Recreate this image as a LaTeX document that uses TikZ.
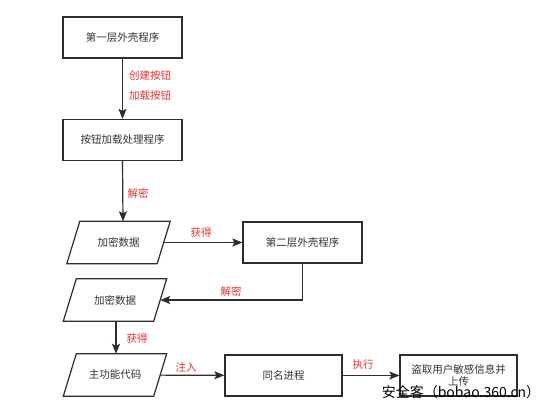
\documentclass[tikz,border=0pt]{standalone}
\usepackage{fontspec}
\setmainfont{Noto Sans CJK SC}
\usetikzlibrary{arrows.meta}
\definecolor{lbl}{RGB}{235,50,50}
\definecolor{ln}{RGB}{45,45,45}
\definecolor{txt}{RGB}{51,51,51}
\tikzset{
  boxnode/.style={draw=ln, line width=1.2pt, minimum width=119pt, minimum height=41pt, inner sep=0pt,
    font=\fontsize{10.5pt}{12.5pt}\selectfont, text=txt},
  paranode/.style={minimum width=90pt, minimum height=42pt, inner sep=0pt,
    font=\fontsize{10.5pt}{12.5pt}\selectfont, text=txt},
  paraline/.style={draw=ln, line width=1.2pt, line join=miter},
  arr/.style={draw=ln, line width=1.2pt, -{Stealth[length=10pt,width=8pt,inset=2pt]}},
  lab/.style={text=lbl, font=\fontsize{10.5pt}{12.5pt}\selectfont, inner sep=0pt},
}
\begin{document}
\begin{tikzpicture}[x=1pt,y=-1pt]
\fill[white] (0,0) rectangle (554,411);
\useasboundingbox (0,0) rectangle (554,411);

% boxes
\node[boxnode] (b1) at (122.5,37.5) {第一层外壳程序};
\node[boxnode] (b2) at (122.5,140) {按钮加载处理程序};
\node[boxnode] (b3) at (302.5,242.5) {第二层外壳程序};
\node[boxnode, minimum width=117pt] (b4) at (283.5,375.5) {同名进程};
\node[boxnode, minimum width=117pt, align=center] (b5) at (458.5,375.5) {盗取用户敏感信息并\\上传};

% parallelograms
\node[paranode] (p1) at (118.5,242.5) {加密数据};
\node[paranode] (p2) at (115,300) {加密数据};
\node[paranode] (p3) at (115,375) {主功能代码};
\foreach \p in {p1,p2,p3}{
  \draw[paraline] ([xshift=6.5]\p.north west) -- ([xshift=6.5]\p.north east)
    -- ([xshift=-6.5]\p.south east) -- ([xshift=-6.5]\p.south west) -- cycle;
}

% connectors
\draw[arr] (b1) -- (b2);
\draw[arr] (b2.south) -- ([xshift=4.5]p1.north);
\draw[arr] (p1) -- (b3);
\draw[arr] (b3.south) |- (p2.east);
\draw[arr] ([xshift=1]p2.south) -- ([xshift=1]p3.north);
\draw[arr] (p3) -- (b4);
\draw[arr] (b4) -- (b5);

% labels
\node[lab] (l1) at (150,75) {创建按钮};
\node[lab] (l2) at (150,95) {加载按钮};
\node[lab] (l3) at (138,193) {解密};
\node[lab] (l4) at (201,233) {获得};
\node[lab] (l5) at (231,291) {解密};
\node[lab] (l6) at (137,339) {获得};
\node[lab] (l7) at (186,367) {注入};
\node[lab] (l8) at (363,365) {执行};

% watermark
\node[inner sep=0pt, font=\fontsize{14pt}{16pt}\selectfont, text=black] (wm) at (461,392) {安全客（bobao.360.cn）};
\end{tikzpicture}
\end{document}
